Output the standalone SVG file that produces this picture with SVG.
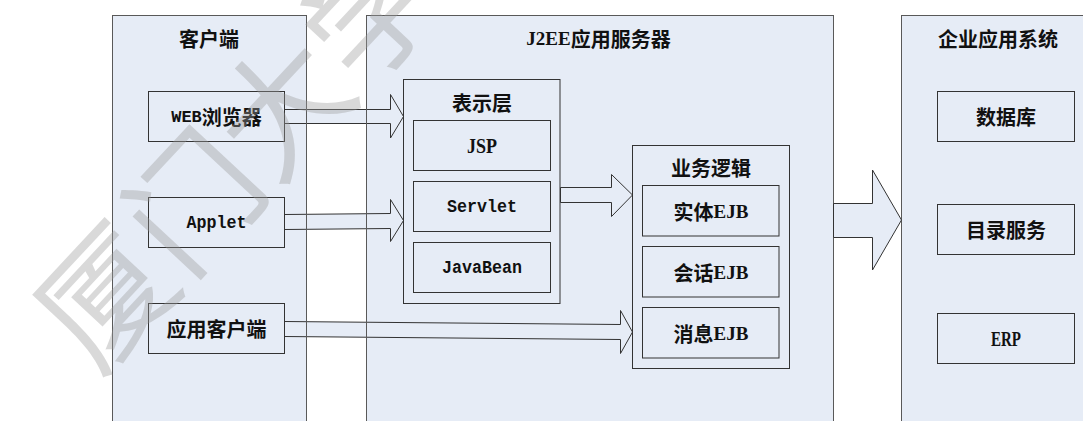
<svg xmlns="http://www.w3.org/2000/svg" width="1083" height="421" viewBox="0 0 1083 421">
<style>
.panel{fill:#e6ecf6;stroke:#595959;stroke-width:1}
.edge{fill:none;stroke:#595959;stroke-width:1}
.box{fill:#e6ecf6;stroke:#333;stroke-width:1}
.arrow{fill:#e6ecf6;stroke:#333;stroke-width:1;stroke-linejoin:miter}
.t{font-family:"Noto Sans CJK SC","Liberation Sans",sans-serif;font-size:20px;font-weight:bold;fill:#111;text-anchor:middle;dominant-baseline:central}
.ser{font-family:"Liberation Serif",serif;font-size:20px;font-weight:bold}
.ser19{font-family:"Liberation Serif",serif;font-size:19px;font-weight:bold}
.m17{font-family:"Liberation Mono",monospace;font-size:17px;font-weight:bold}
.mono{font-family:"Liberation Mono",monospace;font-size:19px;font-weight:bold}
.wm{font-family:"Noto Sans CJK SC",sans-serif;font-size:130px;font-weight:400;fill:#9a9a9a;fill-opacity:0.38;text-anchor:middle;dominant-baseline:central}
</style>
<rect width="1083" height="421" fill="#fff"/>
<g id="panel-client"><rect class="panel" x="112.5" y="15.5" width="194" height="420"/><text class="t" x="209" y="38">客户端</text></g>
<g id="panel-j2ee"><rect class="panel" x="366.5" y="15.5" width="467" height="420"/><text class="t" x="598.5" y="38"><tspan class="ser19">J2EE</tspan>应用服务器</text></g>
<g id="panel-enterprise"><rect class="panel" x="901.5" y="15.5" width="200" height="420"/><text class="t" x="998" y="38">企业应用系统</text></g>
<g id="connectors">
<polygon class="arrow" points="284.5,109.5 390.5,109.5 390.5,94.5 403.5,116.5 390.5,138 390.5,123.5 284.5,123.5"/>
<polygon class="arrow" points="284.5,214.5 390.5,213.5 390.5,199.5 403.5,220.5 390.5,241.5 390.5,228.5 284.5,229.5"/>
<polygon class="arrow" points="284.5,321.5 620.5,324.5 620.5,310.5 632.5,332 620.5,353.5 620.5,339.5 284.5,336.5"/>
<polygon class="arrow" points="560.5,187.5 611.5,187.5 611.5,174.5 632.5,195 611.5,216.5 611.5,202.5 560.5,202.5"/>
<polygon class="arrow" points="833.5,203.5 872.5,203.5 872.5,170 901.5,220 872.5,270 872.5,237.5 833.5,237.5"/>
</g>
<g id="panel-edges">
<line class="edge" x1="306.5" y1="15.5" x2="306.5" y2="421"/>
<line class="edge" x1="366.5" y1="15.5" x2="366.5" y2="421"/>
</g>
<g id="web"><rect class="box" x="148.5" y="91.5" width="136" height="50"/><text class="t" x="216.5" y="116.5"><tspan class="m17">WEB</tspan>浏览器</text></g>
<g id="applet"><rect class="box" x="148.5" y="197.5" width="136" height="50"/><text class="t mono" x="216.5" y="222.5" textLength="60" lengthAdjust="spacingAndGlyphs">Applet</text></g>
<g id="appclient"><rect class="box" x="148.5" y="303.5" width="136" height="50"/><text class="t" x="216.5" y="328.5">应用客户端</text></g>
<g id="presentation"><rect class="box" x="403.5" y="79.5" width="156.5" height="224"/><text class="t" x="482" y="102">表示层</text></g>
<g id="jsp"><rect class="box" x="413.5" y="120.5" width="137" height="50"/><text class="t ser" x="482" y="145.5" textLength="30" lengthAdjust="spacingAndGlyphs">JSP</text></g>
<g id="servlet"><rect class="box" x="413.5" y="181.5" width="137" height="50"/><text class="t mono" x="482" y="206.5" textLength="70" lengthAdjust="spacingAndGlyphs">Servlet</text></g>
<g id="javabean"><rect class="box" x="413.5" y="242.5" width="137" height="50"/><text class="t mono" x="482" y="267.5" textLength="80" lengthAdjust="spacingAndGlyphs">JavaBean</text></g>
<g id="business"><rect class="box" x="632.5" y="145.5" width="157" height="223"/><text class="t" x="711" y="167.5">业务逻辑</text></g>
<g id="entity"><rect class="box" x="642.5" y="185.5" width="136.5" height="50.5"/><text class="t" x="711" y="211">实体<tspan class="ser19">EJB</tspan></text></g>
<g id="session"><rect class="box" x="642.5" y="246.5" width="136.5" height="50.5"/><text class="t" x="711" y="272">会话<tspan class="ser19">EJB</tspan></text></g>
<g id="message"><rect class="box" x="642.5" y="307.5" width="136.5" height="50.5"/><text class="t" x="711" y="333">消息<tspan class="ser19">EJB</tspan></text></g>
<g id="database"><rect class="box" x="937.5" y="91.5" width="137" height="50"/><text class="t" x="1006" y="116.5">数据库</text></g>
<g id="directory"><rect class="box" x="937.5" y="204.5" width="137" height="50"/><text class="t" x="1006" y="229.5">目录服务</text></g>
<g id="erp"><rect class="box" x="937.5" y="313.5" width="137" height="50"/><text class="t ser" x="1006" y="338.5" textLength="30" lengthAdjust="spacingAndGlyphs">ERP</text></g>
<g id="watermark"><text class="wm" x="232" y="148" transform="rotate(-47 232 148)">厦门大学</text></g>
</svg>
